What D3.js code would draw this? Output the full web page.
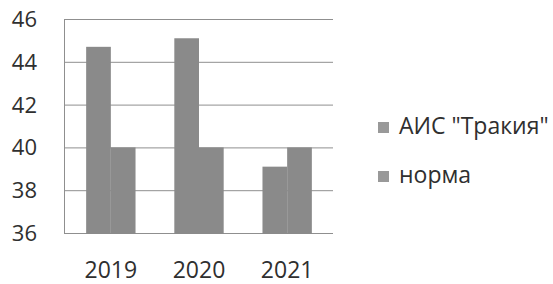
<!DOCTYPE html>
<html>
<head>
<meta charset="utf-8">
<script src="https://d3js.org/d3.v7.min.js"></script>
<style>
  body { margin: 0; padding: 0; background: #fff; }
  text { font-family: "Open Sans", sans-serif; fill: #2f2f2f; }
</style>
</head>
<body>
<div id="chart"></div>
<script>
// data
var years = ["2019", "2020", "2021"];
var seriesNames = ["АИС \"Тракия\"", "норма"];
var aisValues = [44.7, 45.1, 39.1];
var normValues = [40, 40, 40];
var yTicks = [36, 38, 40, 42, 44, 46];

var width = 553, height = 284;
var plot = {left: 64, right: 333, top: 19, bottom: 233};

var svg = d3.select("#chart")
  .append("svg")
    .attr("width", width)
    .attr("height", height);

var y = d3.scaleLinear()
  .domain([36, 46])
  .range([plot.bottom, plot.top]);

var x = d3.scaleBand()
  .domain(years)
  .range([plot.left + 1, plot.right])
  .paddingInner(0.44)
  .paddingOuter(0.24);

var xSub = d3.scaleBand()
  .domain(seriesNames)
  .range([0, x.bandwidth()]);

// gridlines
svg.append("g")
  .selectAll("line")
  .data(yTicks)
  .enter()
  .append("line")
    .attr("x1", plot.left)
    .attr("x2", plot.right)
    .attr("y1", function(d) { return y(d) + 0.5; })
    .attr("y2", function(d) { return y(d) + 0.5; })
    .style("stroke", "#8f8f8f")
    .style("stroke-width", 1);

// left axis line
svg.append("line")
  .attr("x1", plot.left + 0.5)
  .attr("x2", plot.left + 0.5)
  .attr("y1", y(46))
  .attr("y2", y(36) + 1)
  .style("stroke", "#8f8f8f");

// y labels
svg.append("g")
  .selectAll("text")
  .data(yTicks)
  .enter()
  .append("text")
    .attr("x", 37)
    .attr("y", function(d) { return y(d) + 8; })
    .attr("text-anchor", "end")
    .style("font-size", "22px")
    .text(function(d) { return d; });

// bars
var rows = years.map(function(yr, i) {
  return {year: yr, values: [aisValues[i], normValues[i]]};
});

var groups = svg.append("g")
  .selectAll("g")
  .data(rows)
  .enter()
  .append("g")
    .attr("transform", function(d) { return "translate(" + x(d.year) + ",0)"; });

groups.selectAll("rect")
  .data(function(d) { return d.values.map(function(v, j) { return {name: seriesNames[j], value: v}; }); })
  .enter()
  .append("rect")
    .attr("x", function(d) { return xSub(d.name); })
    .attr("width", xSub.bandwidth())
    .attr("y", function(d) { return y(d.value); })
    .attr("height", function(d) { return y(36) - y(d.value) + 1; })
    .style("fill", "#8a8a8a");

// x labels
svg.append("g")
  .selectAll("text")
  .data(years)
  .enter()
  .append("text")
    .attr("x", function(d) { return x(d) + x.bandwidth() / 2; })
    .attr("y", 278)
    .attr("text-anchor", "middle")
    .style("font-size", "23px")
    .text(function(d) { return d; });

// legend
var legend = svg.append("g")
  .selectAll("g")
  .data(seriesNames)
  .enter()
  .append("g")
    .attr("transform", function(d, i) { return "translate(378," + (122 + i * 49) + ")"; });

legend.append("rect")
  .attr("width", 11)
  .attr("height", 11)
  .style("fill", "#999");

legend.append("text")
  .attr("x", 21)
  .attr("y", 12)
  .style("font-size", "23px")
  .text(function(d) { return d; });
</script>
</body>
</html>
